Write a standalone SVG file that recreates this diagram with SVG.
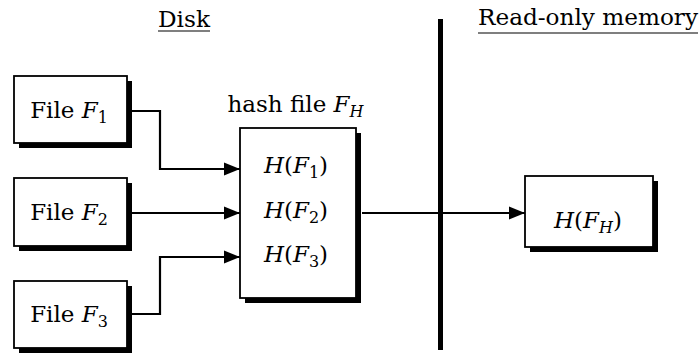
<svg xmlns="http://www.w3.org/2000/svg" width="700" height="353" viewBox="0 0 700 353">
<style>
text{font-family:"DejaVu Serif",serif;font-size:23px;fill:#000}
.c{text-anchor:middle}
.i{font-style:italic}
.sub{font-size:16px}
.box{fill:#fff;stroke:#000;stroke-width:1.8}
.sh{fill:#000}
.conn{fill:none;stroke:#000;stroke-width:2.2}
.ul{stroke:#000;stroke-width:1.2}
</style>
<defs>
<marker id="ah" markerUnits="userSpaceOnUse" markerWidth="17" markerHeight="14" refX="16" refY="7" orient="auto">
<path d="M0,0.5 L16,7 L0,13.5 Z" fill="#000"/>
</marker>
</defs>

<g id="label-disk">
<text x="158" y="27" textLength="52" lengthAdjust="spacingAndGlyphs">Disk</text>
<line class="ul" x1="158" y1="31" x2="210" y2="31"/>
</g>
<g id="label-rom">
<text x="478" y="25" textLength="220" lengthAdjust="spacingAndGlyphs">Read-only memory</text>
<line class="ul" x1="478" y1="33" x2="698" y2="33"/>
</g>
<g id="divider">
<line x1="440.5" y1="19" x2="440.5" y2="350" stroke="#000" stroke-width="5"/>
</g>

<g id="connectors">
<path class="conn" d="M132,111 H160 V169 H240" marker-end="url(#ah)"/>
<path class="conn" d="M132,213 H240" marker-end="url(#ah)"/>
<path class="conn" d="M132,314 H160 V257 H240" marker-end="url(#ah)"/>
<path class="conn" d="M362,213 H525" marker-end="url(#ah)"/>
</g>

<g id="file1">
<rect class="sh" x="19" y="81" width="113" height="67"/>
<rect class="box" x="14" y="76" width="113" height="67"/>
<text class="c" x="69" y="118">File <tspan class="i">F</tspan><tspan class="sub" dy="5">1</tspan></text>
</g>
<g id="file2">
<rect class="sh" x="19" y="183" width="113" height="68"/>
<rect class="box" x="14" y="178" width="113" height="68"/>
<text class="c" x="69" y="220">File <tspan class="i">F</tspan><tspan class="sub" dy="5">2</tspan></text>
</g>
<g id="file3">
<rect class="sh" x="19" y="286" width="113" height="67"/>
<rect class="box" x="14" y="281" width="113" height="67"/>
<text class="c" x="69" y="322">File <tspan class="i">F</tspan><tspan class="sub" dy="5">3</tspan></text>
</g>

<g id="hashfile">
<text class="c" x="295.5" y="112">hash file <tspan class="i">F</tspan><tspan class="sub i" dy="5">H</tspan></text>
<rect class="sh" x="245" y="133" width="116" height="170"/>
<rect class="box" x="240" y="128" width="116" height="170"/>
<text class="c" x="296" y="173"><tspan class="i">H</tspan>(<tspan class="i">F</tspan><tspan class="sub" dy="5">1</tspan><tspan dy="-5">)</tspan></text>
<text class="c" x="296" y="218"><tspan class="i">H</tspan>(<tspan class="i">F</tspan><tspan class="sub" dy="5">2</tspan><tspan dy="-5">)</tspan></text>
<text class="c" x="296" y="262"><tspan class="i">H</tspan>(<tspan class="i">F</tspan><tspan class="sub" dy="5">3</tspan><tspan dy="-5">)</tspan></text>
</g>

<g id="rom">
<rect class="sh" x="530" y="181" width="128" height="71"/>
<rect class="box" x="525" y="176" width="128" height="71"/>
<text class="c" x="588" y="228"><tspan class="i">H</tspan>(<tspan class="i">F</tspan><tspan class="sub i" dy="5">H</tspan><tspan dy="-5">)</tspan></text>
</g>
</svg>
